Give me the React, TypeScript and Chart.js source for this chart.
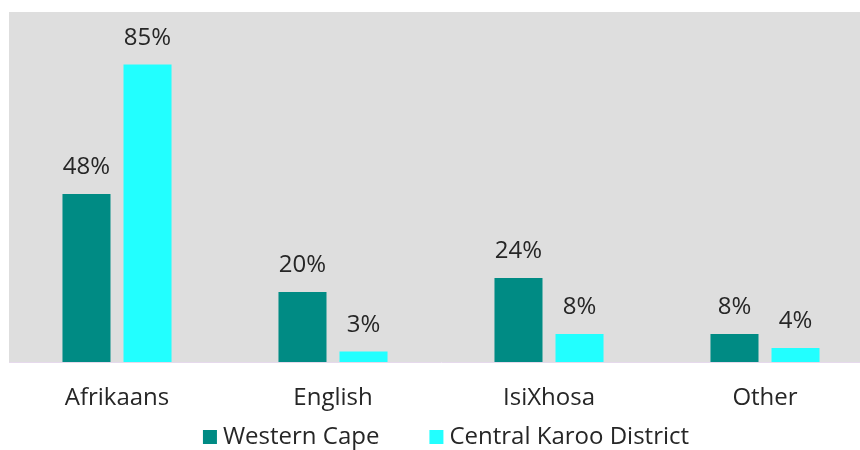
import React, { useEffect, useRef } from "react";
import { Chart, registerables } from "chart.js";

Chart.register(...registerables);

const categories = ["Afrikaans", "English", "IsiXhosa", "Other"];
const westernCape = [48, 20, 24, 8];
const centralKaroo = [85, 3, 8, 4];
const seriesNames = ["Western Cape", "Central Karoo District"];
const seriesColors = ["#008b84", "#22ffff"];

const FONT = "'Open Sans', 'Noto Sans', sans-serif";
const TEXT = "#262626";

const bgPlugin = {
  id: "plotBg",
  beforeDraw(chart: any) {
    const { ctx, chartArea } = chart;
    ctx.save();
    ctx.fillStyle = "#dedede";
    ctx.fillRect(chartArea.left, chartArea.top, chartArea.right - chartArea.left, chartArea.bottom - chartArea.top);
    ctx.restore();
  },
};

const labelPlugin = {
  id: "valueLabels",
  afterDatasetsDraw(chart: any) {
    const { ctx } = chart;
    ctx.save();
    ctx.font = `24px ${FONT}`;
    ctx.fillStyle = TEXT;
    ctx.textAlign = "center";
    ctx.textBaseline = "alphabetic";
    chart.data.datasets.forEach((ds: any, i: number) => {
      const meta = chart.getDatasetMeta(i);
      meta.data.forEach((bar: any, j: number) => {
        ctx.fillText(`${ds.data[j]}%`, bar.x, bar.y - 20);
      });
    });
    ctx.restore();
  },
};

const legendPlugin = {
  id: "bottomLegend",
  afterDraw(chart: any) {
    const { ctx, height } = chart;
    const box = 14;
    const gapBoxText = 6;
    const gapItems = 50;
    ctx.save();
    ctx.font = `24px ${FONT}`;
    const items = chart.data.datasets.map((ds: any) => ({
      text: ds.label,
      color: ds.backgroundColor,
      w: ctx.measureText(ds.label).width,
    }));
    const total =
      items.reduce((s: number, it: any) => s + box + gapBoxText + it.w, 0) + gapItems * (items.length - 1);
    let x = 446 - total / 2;
    const baseline = height - 6;
    const boxTop = height - 20;
    ctx.textBaseline = "alphabetic";
    ctx.textAlign = "left";
    items.forEach((it: any) => {
      ctx.fillStyle = it.color;
      ctx.fillRect(x, boxTop, box, box);
      x += box + gapBoxText;
      ctx.fillStyle = TEXT;
      ctx.fillText(it.text, x, baseline);
      x += it.w + gapItems;
    });
    ctx.restore();
  },
};

export default function App() {
  const ref = useRef<HTMLCanvasElement>(null);
  useEffect(() => {
    const chart = new Chart(ref.current!, {
      type: "bar",
      data: {
        labels: categories,
        datasets: [
          {
            label: seriesNames[0],
            data: westernCape,
            backgroundColor: seriesColors[0],
            categoryPercentage: 0.565,
            barPercentage: 0.787,
          },
          {
            label: seriesNames[1],
            data: centralKaroo,
            backgroundColor: seriesColors[1],
            categoryPercentage: 0.565,
            barPercentage: 0.787,
          },
        ],
      },
      options: {
        animation: false,
        responsive: false,
        layout: { padding: { top: 12, left: 9, right: 0, bottom: 38 } },
        scales: {
          x: {
            grid: { display: false, drawTicks: false },
            border: { display: true, color: "#e6d9ec", width: 1 },
            ticks: { font: { family: FONT, size: 24 }, color: TEXT, padding: 22 },
            afterFit(scale: any) {
              scale.height = 50;
            },
          },
          y: {
            display: false,
            min: 0,
            max: 100,
          },
        },
        plugins: {
          legend: { display: false },
          tooltip: { enabled: false },
        },
      },
      plugins: [bgPlugin, labelPlugin, legendPlugin],
    });
    return () => chart.destroy();
  }, []);
  return (
    <div
      style={{ position: "absolute", left: 0, top: 0, width: 860, height: 450, overflow: "hidden" }}
    >
      <canvas ref={ref} width={873} height={450} style={{ display: "block" }} />
    </div>
  );
}
